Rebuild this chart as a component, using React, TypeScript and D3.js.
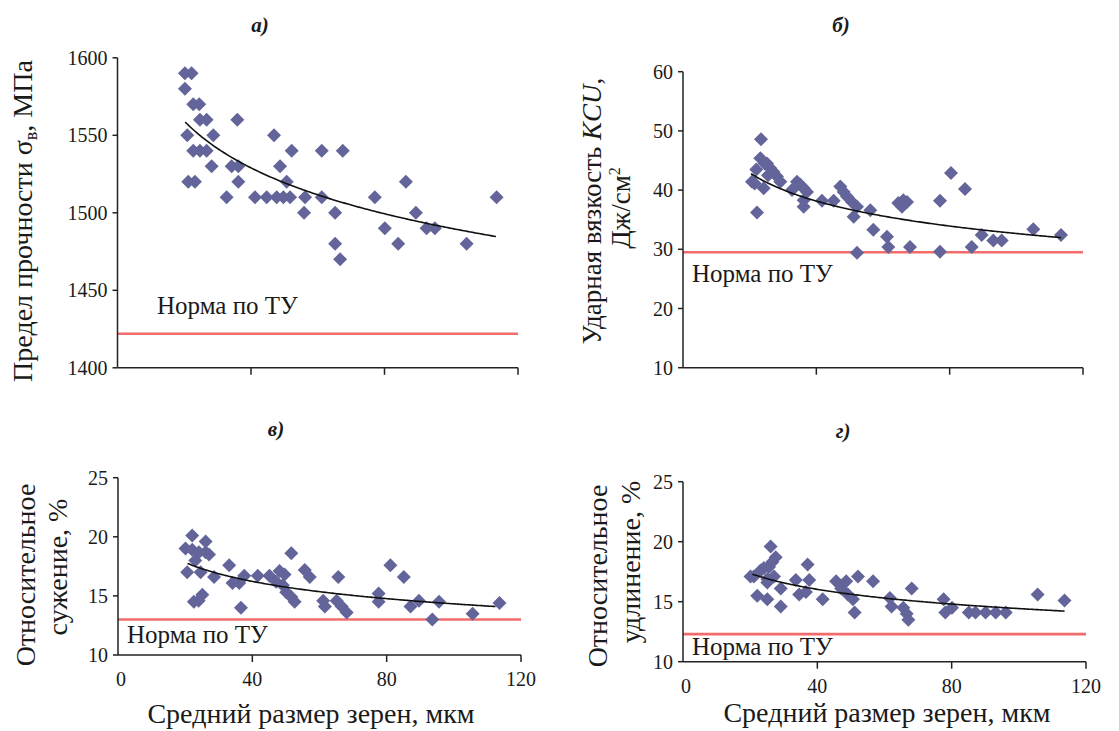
import React from 'react';
import * as d3 from 'd3';

// ---------- DATA ----------
const xTicks = [0, 40, 80, 120];

// а) Предел прочности σв, МПа
const strengthPoints: [number, number][] = [
  [20.2, 1590], [22.2, 1590], [20.2, 1580], [22.7, 1570], [24.5, 1570],
  [24.7, 1560], [26.7, 1560], [35.9, 1560], [20.9, 1550], [28.7, 1550], [46.9, 1550],
  [22.7, 1540], [24.7, 1540], [26.7, 1540], [52.2, 1540], [61.2, 1540], [67.5, 1540],
  [28.2, 1530], [34.2, 1530], [36.2, 1530], [48.7, 1530],
  [21.2, 1520], [23.2, 1520], [36.2, 1520], [50.7, 1520], [86.4, 1520],
  [32.7, 1510], [41.2, 1510], [44.7, 1510], [47.7, 1510], [49.7, 1510], [51.7, 1510],
  [56.2, 1510], [61.2, 1510], [77.1, 1510], [113.6, 1510],
  [55.9, 1500], [65.2, 1500], [89.4, 1500],
  [80.1, 1490], [92.6, 1490], [95.1, 1490],
  [65.2, 1480], [84.1, 1480], [104.6, 1480], [66.7, 1470],
];
const strengthTicks = [1400, 1450, 1500, 1550, 1600];
const strengthNorm = 1422;
const strengthTrend = { a: 1696.6, b: -0.0282, from: 20.3, to: 113.4 };

// б) Ударная вязкость KCU, Дж/см2
const impactPoints: [number, number][] = [
  [23.4, 48.6], [23.2, 45.4], [25.2, 44.5], [26.2, 43.7], [27.1, 43.1], [28.2, 42.3],
  [29.2, 41.4], [20.7, 41.4], [21.5, 41.1], [24.2, 40.3], [22.2, 36.2], [22.0, 43.5],
  [24.5, 44.5], [25.5, 42.5], [34.2, 41.4], [35.2, 40.9], [36.2, 40.3], [37.2, 39.7],
  [32.7, 40.0], [36.2, 38.3], [36.2, 37.2], [41.7, 38.2], [45.2, 38.2], [47.2, 40.6],
  [48.2, 39.7], [49.2, 38.9], [50.7, 38.0], [52.2, 37.2], [51.2, 35.5], [56.2, 36.6],
  [57.1, 33.3], [52.2, 29.4], [61.2, 32.1], [61.6, 30.4], [64.6, 37.8], [66.1, 38.3],
  [67.2, 38.0], [65.7, 37.2], [68.1, 30.4], [77.1, 38.2], [77.1, 29.6], [80.4, 42.9],
  [84.6, 40.2], [86.6, 30.4], [89.6, 32.4], [93.1, 31.5], [95.6, 31.5], [105.1, 33.4],
  [113.4, 32.4],
];
const impactTicks = [10, 20, 30, 40, 50, 60];
const impactNorm = 29.5;
const impactTrend = { a: 71.3, b: -0.1695, from: 20.4, to: 113.4 };

// в) Относительное сужение, %
const narrowingPoints: [number, number][] = [
  [22.1, 20.1], [20.1, 19.0], [22.1, 18.9], [24.1, 18.7], [26.1, 18.7], [27.1, 18.5],
  [26.1, 19.6], [23.0, 18.0], [20.6, 17.0], [24.6, 17.0], [28.6, 16.6], [33.1, 17.6],
  [34.1, 16.1], [36.1, 16.1], [37.6, 16.7], [22.6, 14.5], [25.1, 15.1], [24.0, 14.6],
  [36.6, 14.0], [41.6, 16.7], [45.1, 16.7], [48.1, 17.1], [49.6, 16.8], [47.1, 16.2],
  [49.1, 15.9], [51.6, 18.6], [50.1, 15.3], [51.6, 14.9], [52.6, 14.5], [55.6, 17.2],
  [57.1, 16.6], [61.1, 14.6], [61.6, 14.1], [65.6, 16.6], [65.1, 14.6], [66.6, 14.1],
  [68.1, 13.6], [77.6, 15.2], [77.6, 14.5], [81.1, 17.6], [85.1, 16.6], [87.1, 14.1],
  [89.6, 14.6], [93.6, 13.0], [95.6, 14.5], [105.6, 13.5], [113.6, 14.4],
];
const narrowingTicks = [10, 15, 20, 25];
const narrowingNorm = 13;
const narrowingTrend = { a: 26.8, b: -0.136, from: 20.7, to: 112.4 };

// г) Относительное удлинение, %
const elongationPoints: [number, number][] = [
  [26.1, 19.6], [27.6, 18.7], [26.6, 18.3], [25.6, 17.9], [24.1, 17.8], [23.1, 17.6],
  [21.1, 17.1], [20.1, 17.1], [25.1, 16.9], [27.1, 17.1], [25.1, 16.6], [37.1, 18.1],
  [33.6, 16.8], [37.6, 16.8], [29.1, 16.1], [22.1, 15.5], [25.1, 15.2], [34.6, 15.6],
  [36.6, 15.8], [29.1, 14.6], [41.6, 15.2], [45.6, 16.7], [48.6, 16.7], [52.1, 17.1],
  [56.6, 16.7], [47.1, 16.1], [49.1, 15.6], [50.6, 15.2], [51.1, 14.1], [61.6, 15.3],
  [62.1, 14.6], [68.1, 16.1], [65.6, 14.5], [66.6, 14.0], [67.1, 13.5], [77.6, 15.2],
  [78.1, 14.1], [80.1, 14.5], [85.1, 14.1], [87.1, 14.1], [90.1, 14.1], [93.1, 14.1],
  [96.1, 14.1], [105.6, 15.6], [113.6, 15.1],
];
const elongationTicks = [10, 15, 20, 25];
const elongationNorm = 12.3;
const elongationTrend = { a: 24.5, b: -0.115, from: 20.65, to: 113.6 };

const normLabel = 'Норма по ТУ';
const xTitle = 'Средний размер зерен, мкм';

// ---------- STYLE ----------
const FONT = "Liberation Serif, Tinos, 'Times New Roman', 'DejaVu Serif', serif";
const TXT = '#1a1a1a';
const AXIS = '#222';
const MARK = '#63659a';
const RED = '#f46b6b';

type PanelProps = {
  x0: number; x1: number; yTop: number; yBottom: number;
  ticks: number[]; points: [number, number][];
  trend: { a: number; b: number; from: number; to: number };
  norm: number; normX: number; normY: number;
  title: string; titleX: number; titleY: number;
  yLabel: React.ReactNode; showX: boolean; xTitleX?: number; xTitleY?: number;
};

function Panel(p: PanelProps) {
  const x = d3.scaleLinear().domain([0, 120]).range([p.x0, p.x1]);
  const y = d3.scaleLinear().domain([p.ticks[0], p.ticks[p.ticks.length - 1]]).range([p.yBottom, p.yTop]);
  const diamond = d3.symbol().type(d3.symbolSquare).size(98)() as string;
  const trendXs = d3.range(p.trend.from, p.trend.to, 0.5).concat([p.trend.to]);
  const line = d3.line<number>().x((v) => x(v)).y((v) => y(p.trend.a * Math.pow(v, p.trend.b)));
  return (
    <g>
      <text x={p.titleX} y={p.titleY} textAnchor="middle" fontStyle="italic" fontWeight="bold"
        fontSize={21} fill={TXT}>{p.title}</text>
      {/* red norm line */}
      <line x1={x(0)} x2={x(120)} y1={y(p.norm)} y2={y(p.norm)} stroke={RED} strokeWidth={2.6} />
      <text x={p.normX} y={p.normY} fontSize={25} fill={TXT}>{normLabel}</text>
      {/* axes */}
      <line x1={x(0)} x2={x(0)} y1={p.yTop} y2={p.yBottom} stroke={AXIS} strokeWidth={1.5} />
      <line x1={x(0)} x2={x(120)} y1={p.yBottom} y2={p.yBottom} stroke={AXIS} strokeWidth={1.5} />
      {p.ticks.map((t) => (
        <g key={t}>
          <line x1={x(0) - 5} x2={x(0)} y1={y(t)} y2={y(t)} stroke={AXIS} strokeWidth={1.5} />
          <text x={x(0) - 10} y={y(t)} dy="0.35em" textAnchor="end" fontSize={20} fill={TXT}>{t}</text>
        </g>
      ))}
      {xTicks.filter((t) => t > 0).map((t) => (
        <line key={t} x1={x(t)} x2={x(t)} y1={p.yBottom} y2={p.yBottom + 7} stroke={AXIS} strokeWidth={1.5} />
      ))}
      {p.showX && xTicks.map((t) => (
        <text key={'l' + t} x={x(t) + (t === 0 ? 3 : 0)} y={p.yBottom + 31} textAnchor="middle" fontSize={20} fill={TXT}>{t}</text>
      ))}
      {p.showX && (
        <text x={p.xTitleX} y={p.xTitleY} textAnchor="middle" fontSize={28} fill={TXT}>{xTitle}</text>
      )}
      {/* points */}
      {p.points.map((d, i) => (
        <path key={i} d={diamond} transform={`translate(${x(d[0])},${y(d[1])}) rotate(45)`} fill={MARK} />
      ))}
      {/* trend */}
      <path d={line(trendXs) as string} fill="none" stroke="#111" strokeWidth={1.6} />
      {p.yLabel}
    </g>
  );
}

export default function App() {
  return (
    <div style={{ position: 'absolute', left: 0, top: 0 }}>
      <svg width={1119} height={731} style={{ display: 'block', background: '#fff', fontFamily: FONT }}>
        <Panel x0={117.5} x1={518} yTop={57.8} yBottom={367.8} ticks={strengthTicks}
          points={strengthPoints} trend={strengthTrend} norm={strengthNorm}
          normX={157} normY={314} title="а)" titleX={260} titleY={32} showX={false}
          yLabel={
            <text transform="translate(32,221) rotate(-90)" textAnchor="middle" fontSize={28} fill={TXT}>
              Предел прочности σ<tspan fontSize={18} dy={5}>в</tspan><tspan dy={-5}>, МПа</tspan>
            </text>
          } />
        <Panel x0={683} x1={1083} yTop={71.7} yBottom={367.7} ticks={impactTicks}
          points={impactPoints} trend={impactTrend} norm={impactNorm}
          normX={692} normY={282} title="б)" titleX={841} titleY={32} showX={false}
          yLabel={
            <g>
              <text transform="translate(601,211) rotate(-90)" textAnchor="middle" fontSize={27} fill={TXT}>
                Ударная вязкость <tspan fontStyle="italic">KCU</tspan>,
              </text>
              <text transform="translate(630,208) rotate(-90)" textAnchor="middle" fontSize={27} fill={TXT}>
                Дж/см<tspan fontSize={16} dy={-10}>2</tspan>
              </text>
            </g>
          } />
        <Panel x0={118} x1={521} yTop={477.7} yBottom={655} ticks={narrowingTicks}
          points={narrowingPoints} trend={narrowingTrend} norm={narrowingNorm}
          normX={127} normY={643} title="в)" titleX={276} titleY={436} showX={true}
          xTitleX={311} xTitleY={723}
          yLabel={
            <g>
              <text transform="translate(35,575) rotate(-90)" textAnchor="middle" fontSize={28} fill={TXT}>Относительное</text>
              <text transform="translate(67,567) rotate(-90)" textAnchor="middle" fontSize={28} fill={TXT}>сужение, %</text>
            </g>
          } />
        <Panel x0={683} x1={1086} yTop={481.7} yBottom={661.7} ticks={elongationTicks}
          points={elongationPoints} trend={elongationTrend} norm={elongationNorm}
          normX={692} normY={655} title="г)" titleX={843} titleY={438} showX={true}
          xTitleX={887} xTitleY={722}
          yLabel={
            <g>
              <text transform="translate(607,576) rotate(-90)" textAnchor="middle" fontSize={28} fill={TXT}>Относительное</text>
              <text transform="translate(640,562) rotate(-90)" textAnchor="middle" fontSize={28} fill={TXT}>удлинение, %</text>
            </g>
          } />
      </svg>
    </div>
  );
}
